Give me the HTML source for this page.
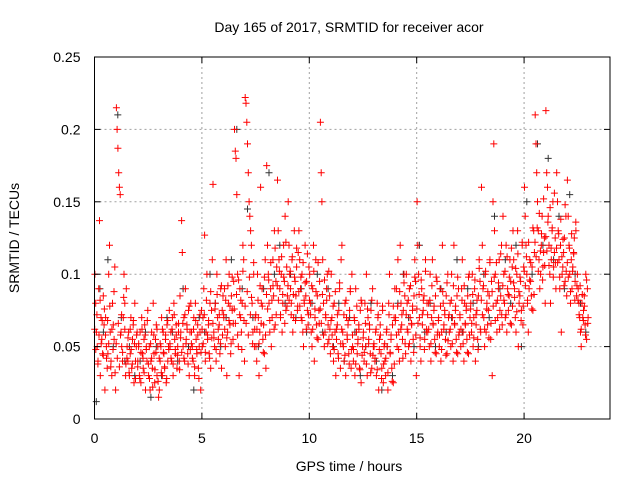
<!DOCTYPE html>
<html><head><meta charset="utf-8"><style>
html,body{margin:0;padding:0;background:#fff;}
svg{display:block;font-family:"Liberation Sans",sans-serif;}
</style></head><body>
<svg id="chart" width="640" height="480" viewBox="0 0 640 480">
<rect width="640" height="480" fill="#fff"/>
<text x="349" y="32" font-size="14" text-anchor="middle">Day 165 of 2017, SRMTID for receiver acor</text>
<g id="grid"></g>
<g id="black"></g>
<g id="red"></g>
<g id="axes"></g>
<text x="349" y="471" font-size="14" text-anchor="middle">GPS time / hours</text>
<text x="0" y="0" font-size="14" text-anchor="middle" transform="translate(19,238) rotate(-90)">SRMTID / TECUs</text>
</svg>
<script>
const xTicks=[0,5,10,15,20];
const yTicks=[0,0.05,0.1,0.15,0.2,0.25];
const yTickLabels=["0","0.05","0.1","0.15","0.2","0.25"];
const chunkHours=0.5;
const redChunks=[
[0.1,0.08,0.06,0.05,0.04,0.09,0.137,0.03,0.07,0.055,0.045,0.085,0.065,0.02],
[0.07,0.05,0.035,0.045,0.1,0.12,0.06,0.04,0.03,0.08,0.065,0.055,0.105,0.02],
[0.215,0.2,0.187,0.17,0.16,0.155,0.06,0.05,0.04,0.07,0.1,0.08,0.03,0.09],
[0.05,0.04,0.06,0.03,0.045,0.07,0.035,0.055,0.065,0.025,0.08,0.04,0.05,0.06],
[0.04,0.05,0.03,0.06,0.025,0.07,0.045,0.035,0.055,0.065,0.02,0.05,0.04,0.075],
[0.03,0.05,0.02,0.04,0.06,0.035,0.08,0.045,0.025,0.055,0.065,0.03,0.05,0.015],
[0.02,0.04,0.05,0.07,0.03,0.06,0.045,0.035,0.055,0.025,0.065,0.04,0.05,0.075],
[0.05,0.06,0.04,0.07,0.03,0.08,0.055,0.045,0.065,0.035,0.05,0.06,0.04,0.085],
[0.06,0.137,0.115,0.05,0.07,0.04,0.09,0.055,0.065,0.045,0.075,0.03,0.06,0.08],
[0.06,0.05,0.04,0.07,0.03,0.08,0.055,0.045,0.065,0.035,0.05,0.06,0.02,0.075],
[0.05,0.07,0.09,0.127,0.04,0.06,0.1,0.055,0.065,0.045,0.08,0.035,0.075,0.11],
[0.162,0.06,0.05,0.08,0.04,0.1,0.07,0.055,0.065,0.045,0.09,0.035,0.075,0.085],
[0.07,0.09,0.05,0.11,0.03,0.06,0.08,0.1,0.065,0.045,0.085,0.075,0.055,0.095],
[0.2,0.185,0.18,0.155,0.1,0.05,0.03,0.09,0.07,0.06,0.08,0.12,0.11,0.04],
[0.222,0.218,0.205,0.19,0.17,0.15,0.14,0.13,0.12,0.08,0.06,0.1,0.05,0.07],
[0.05,0.04,0.1,0.07,0.03,0.06,0.16,0.08,0.09,0.055,0.065,0.045,0.11,0.035],
[0.175,0.12,0.1,0.08,0.06,0.09,0.05,0.07,0.11,0.085,0.13,0.065,0.095,0.105],
[0.165,0.13,0.11,0.09,0.07,0.1,0.06,0.08,0.12,0.095,0.14,0.075,0.105,0.085],
[0.15,0.12,0.1,0.09,0.08,0.11,0.06,0.07,0.13,0.095,0.085,0.105,0.075,0.115],
[0.13,0.11,0.09,0.07,0.1,0.06,0.05,0.08,0.12,0.085,0.095,0.075,0.065,0.105],
[0.1,0.08,0.06,0.05,0.09,0.12,0.04,0.07,0.11,0.065,0.085,0.055,0.075,0.095],
[0.205,0.17,0.15,0.11,0.08,0.05,0.06,0.07,0.09,0.1,0.065,0.055,0.085,0.045],
[0.1,0.07,0.05,0.04,0.08,0.06,0.03,0.055,0.065,0.045,0.075,0.09,0.035,0.11],
[0.12,0.06,0.05,0.04,0.08,0.03,0.07,0.055,0.065,0.045,0.075,0.09,0.035,0.1],
[0.05,0.04,0.07,0.03,0.09,0.06,0.045,0.055,0.065,0.035,0.075,0.025,0.08,0.05],
[0.06,0.04,0.08,0.05,0.1,0.03,0.07,0.055,0.065,0.045,0.075,0.035,0.09,0.05],
[0.05,0.04,0.06,0.03,0.08,0.07,0.02,0.055,0.065,0.045,0.035,0.075,0.025,0.05],
[0.04,0.03,0.06,0.05,0.02,0.08,0.1,0.045,0.055,0.035,0.065,0.025,0.07,0.09],
[0.07,0.09,0.05,0.11,0.06,0.04,0.12,0.08,0.065,0.055,0.075,0.1,0.085,0.045],
[0.1,0.08,0.06,0.05,0.09,0.07,0.04,0.065,0.075,0.055,0.085,0.11,0.095,0.03],
[0.15,0.12,0.1,0.07,0.05,0.04,0.09,0.065,0.075,0.085,0.055,0.11,0.06,0.08],
[0.06,0.08,0.05,0.1,0.04,0.07,0.11,0.065,0.075,0.055,0.085,0.045,0.095,0.06],
[0.07,0.05,0.09,0.04,0.06,0.12,0.08,0.065,0.075,0.055,0.085,0.045,0.1,0.07],
[0.06,0.08,0.05,0.1,0.07,0.04,0.12,0.065,0.075,0.055,0.085,0.045,0.09,0.06],
[0.07,0.05,0.09,0.11,0.06,0.04,0.08,0.065,0.075,0.055,0.085,0.045,0.1,0.07],
[0.08,0.06,0.1,0.05,0.07,0.09,0.04,0.065,0.075,0.055,0.085,0.11,0.095,0.06],
[0.16,0.12,0.09,0.07,0.05,0.1,0.06,0.08,0.065,0.075,0.085,0.11,0.055,0.095],
[0.03,0.15,0.19,0.13,0.1,0.08,0.06,0.07,0.09,0.11,0.075,0.085,0.12,0.065],
[0.14,0.1,0.08,0.07,0.12,0.06,0.09,0.075,0.085,0.11,0.095,0.065,0.105,0.13],
[0.11,0.09,0.07,0.06,0.1,0.13,0.05,0.08,0.085,0.095,0.075,0.12,0.065,0.105],
[0.16,0.14,0.12,0.1,0.08,0.06,0.09,0.11,0.095,0.085,0.105,0.075,0.13,0.115],
[0.21,0.19,0.17,0.15,0.13,0.11,0.09,0.1,0.12,0.14,0.105,0.115,0.125,0.08],
[0.213,0.17,0.16,0.14,0.12,0.1,0.08,0.11,0.13,0.15,0.105,0.115,0.125,0.09],
[0.17,0.15,0.13,0.11,0.09,0.12,0.06,0.1,0.105,0.115,0.125,0.095,0.14,0.085],
[0.165,0.14,0.12,0.1,0.08,0.11,0.09,0.105,0.115,0.125,0.095,0.13,0.085,0.1],
[0.09,0.08,0.07,0.06,0.05,0.08,0.07,0.075,0.085,0.065,0.1,0.055,0.09,0.07]
];
const redChunks2=[
[0.062,0.048,0.072,0.038,0.058,0.082,0.052,0.068,0.044,0.076],
[0.058,0.042,0.068,0.052,0.078,0.036,0.062,0.048,0.088,0.032],
[0.052,0.042,0.066,0.036,0.058,0.072,0.046,0.084,0.062,0.038],
[0.042,0.056,0.032,0.062,0.048,0.038,0.068,0.052,0.028,0.058],
[0.036,0.052,0.028,0.046,0.062,0.042,0.032,0.058,0.048,0.068],
[0.038,0.028,0.052,0.042,0.022,0.058,0.034,0.046,0.062,0.026],
[0.042,0.052,0.032,0.062,0.046,0.036,0.058,0.028,0.068,0.048],
[0.052,0.042,0.062,0.038,0.072,0.048,0.058,0.044,0.066,0.034],
[0.056,0.046,0.066,0.042,0.072,0.052,0.062,0.038,0.078,0.048],
[0.052,0.042,0.062,0.036,0.068,0.048,0.058,0.028,0.072,0.046],
[0.062,0.052,0.072,0.046,0.082,0.058,0.068,0.042,0.088,0.056],
[0.066,0.056,0.076,0.048,0.086,0.062,0.072,0.052,0.092,0.058],
[0.072,0.062,0.082,0.056,0.092,0.068,0.078,0.052,0.098,0.066],
[0.076,0.066,0.086,0.058,0.096,0.072,0.082,0.048,0.102,0.068],
[0.078,0.066,0.088,0.058,0.098,0.072,0.084,0.052,0.108,0.062],
[0.072,0.062,0.082,0.052,0.092,0.066,0.078,0.046,0.098,0.058],
[0.086,0.076,0.096,0.068,0.108,0.082,0.092,0.062,0.118,0.072],
[0.092,0.082,0.102,0.072,0.112,0.086,0.098,0.066,0.122,0.078],
[0.092,0.082,0.102,0.072,0.112,0.086,0.098,0.068,0.118,0.078],
[0.088,0.078,0.098,0.068,0.108,0.082,0.094,0.062,0.114,0.072],
[0.082,0.072,0.092,0.062,0.102,0.076,0.088,0.056,0.108,0.066],
[0.076,0.066,0.086,0.058,0.096,0.072,0.082,0.052,0.102,0.062],
[0.068,0.058,0.078,0.048,0.088,0.062,0.072,0.042,0.094,0.052],
[0.062,0.052,0.072,0.044,0.082,0.058,0.068,0.038,0.088,0.048],
[0.058,0.048,0.068,0.038,0.078,0.052,0.062,0.034,0.082,0.044],
[0.056,0.046,0.066,0.038,0.076,0.052,0.062,0.032,0.082,0.044],
[0.052,0.042,0.062,0.034,0.072,0.048,0.058,0.028,0.078,0.038],
[0.052,0.042,0.062,0.032,0.072,0.046,0.058,0.026,0.078,0.038],
[0.068,0.058,0.078,0.048,0.088,0.062,0.072,0.042,0.094,0.052],
[0.072,0.062,0.082,0.052,0.092,0.066,0.078,0.046,0.098,0.058],
[0.076,0.066,0.086,0.056,0.096,0.072,0.082,0.048,0.102,0.062],
[0.072,0.062,0.082,0.052,0.092,0.066,0.078,0.046,0.098,0.058],
[0.068,0.058,0.078,0.048,0.088,0.062,0.072,0.044,0.094,0.054],
[0.072,0.062,0.082,0.052,0.092,0.066,0.078,0.046,0.098,0.058],
[0.072,0.062,0.082,0.052,0.092,0.066,0.078,0.046,0.098,0.058],
[0.076,0.066,0.086,0.056,0.096,0.072,0.082,0.048,0.104,0.062],
[0.082,0.072,0.092,0.062,0.102,0.076,0.088,0.056,0.108,0.066],
[0.088,0.078,0.098,0.068,0.108,0.082,0.094,0.062,0.114,0.072],
[0.092,0.082,0.102,0.072,0.112,0.086,0.098,0.066,0.118,0.078],
[0.094,0.084,0.104,0.074,0.114,0.088,0.098,0.068,0.122,0.078],
[0.102,0.092,0.112,0.082,0.122,0.096,0.108,0.076,0.132,0.086],
[0.122,0.112,0.132,0.102,0.142,0.116,0.128,0.096,0.152,0.106],
[0.126,0.116,0.136,0.106,0.146,0.118,0.132,0.098,0.156,0.108],
[0.118,0.108,0.128,0.098,0.138,0.112,0.124,0.092,0.148,0.102],
[0.108,0.098,0.118,0.088,0.128,0.102,0.114,0.082,0.136,0.092],
[0.082,0.072,0.092,0.062,0.086,0.068,0.078,0.058,0.096,0.066]
];
const blackChunks=[
[0.012,0.09,0.06],[0.11,0.05],[0.21,0.07,0.04],[0.05,0.03],[0.04,0.06],[0.015,0.05],[0.03,0.07],[0.06,0.04],
[0.09,0.05],[0.02,0.07],[0.06,0.1],[0.08,0.05],[0.07,0.11],[0.2,0.09],[0.145,0.07],[0.05,0.09],
[0.17,0.1],[0.12,0.08],[0.1,0.07],[0.09,0.06],[0.08,0.1],[0.06,0.09],[0.05,0.08],[0.04,0.07],
[0.06,0.03],[0.05,0.08],[0.04,0.02],[0.05,0.03],[0.08,0.1],[0.07,0.05],[0.12,0.06],[0.08,0.05],
[0.09,0.06],[0.07,0.11],[0.06,0.09],[0.08,0.05],[0.1,0.07],[0.14,0.09],[0.11,0.08],[0.12,0.05],
[0.15,0.1],[0.19,0.12],[0.18,0.11],[0.14,0.09],[0.155,0.1],[0.08,0.06]
];
const NS="http://www.w3.org/2000/svg";
const L=94.5,R=610,T=57,B=419,xMax=24,yMax=0.25;
function xs(v){return L+(R-L)*v/xMax;}
function ys(v){return B-(B-T)*v/yMax;}
function mk(tag,attrs,parent){const e=document.createElementNS(NS,tag);for(const k in attrs)e.setAttribute(k,attrs[k]);parent.appendChild(e);return e;}
const grid=document.getElementById('grid'),axes=document.getElementById('axes');
xTicks.forEach(t=>{
 const x=xs(t);
 if(t>0){const g=mk('line',{x1:x,x2:x,y1:T,y2:B,stroke:'#a0a0a0','stroke-dasharray':'2,3'},grid);
 
 }
 mk('line',{x1:x,x2:x,y1:B,y2:B-6,stroke:'#000'},axes);
 mk('line',{x1:x,x2:x,y1:T,y2:T+6,stroke:'#000'},axes);
 const tx=mk('text',{x:x,y:B+24,'font-size':14,'text-anchor':'middle'},axes);
 tx.textContent=String(t);
 
 
});
yTicks.forEach((t,i)=>{
 const y=ys(t);
 if(t>0&&t<yMax){const g=mk('line',{x1:L,x2:R,y1:y,y2:y,stroke:'#a0a0a0','stroke-dasharray':'2,3'},grid);
 
 }
 mk('line',{x1:L,x2:L+6,y1:y,y2:y,stroke:'#000'},axes);
 mk('line',{x1:R,x2:R-6,y1:y,y2:y,stroke:'#000'},axes);
 const tx=mk('text',{x:L-14,y:y+5,'font-size':14,'text-anchor':'end'},axes);
 tx.textContent=yTickLabels[i];
 
 
});
mk('rect',{x:L,y:T,width:R-L,height:B-T,fill:'none',stroke:'#000','stroke-width':1},axes);
function drawSeries(chunks,g,color,name,off){
 let d='';
 chunks.forEach((vals,c)=>{
  vals.forEach((v,i)=>{
   const t=c*chunkHours+(i+off)/vals.length*chunkHours;
   const x=xs(t),y=ys(v);
   d+=`M${(x-3.5).toFixed(1)},${y.toFixed(1)}h7M${x.toFixed(1)},${(y-3.5).toFixed(1)}v7`;
  });
 });
 const p=mk('path',{d:d,stroke:color,'stroke-width':1,fill:'none'},g);
 
 
}
drawSeries(blackChunks,document.getElementById('black'),'#333','black-points',0.5);
drawSeries(redChunks,document.getElementById('red'),'#ff0000','red-points',0.5);
drawSeries(redChunks2,document.getElementById('red'),'#ff0000','red-points-dense',0.2);
</script>
</body></html>
